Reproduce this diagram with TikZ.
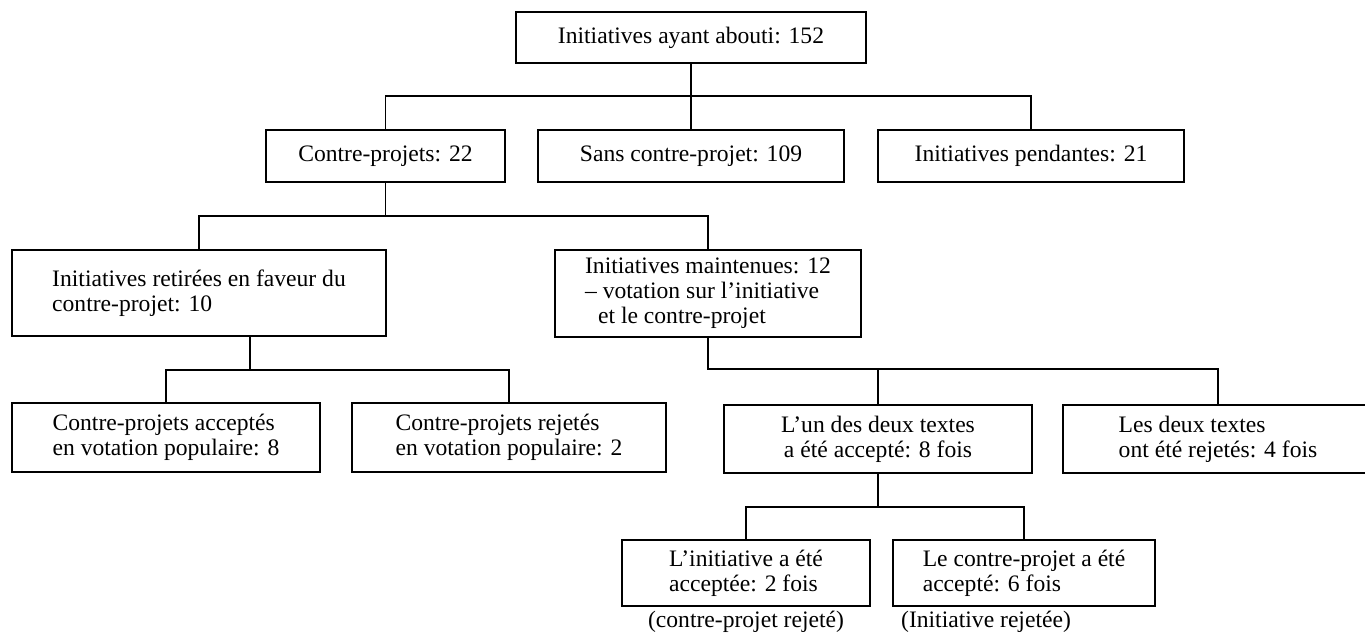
\documentclass[tikz,border=0pt]{standalone}
\usepackage{fontspec}
\setmainfont{Liberation Serif}
\tikzset{
  bx/.style={draw, line width=0.6pt, rectangle, inner sep=2pt, align=left,
    font=\fontsize{11.8pt}{12.6pt}\selectfont},
  bxc/.style={bx, align=center},
  captext/.style={inner sep=0pt, font=\fontsize{11.8pt}{12.6pt}\selectfont},
  ln/.style={line width=0.6pt}
}
\begin{document}
\begin{tikzpicture}[x=0.5pt,y=-0.5pt]
\useasboundingbox (0,0) rectangle (1365,635);
\clip (0,0) rectangle (1365,635);
% row 1
\node[bxc, minimum width=175pt, minimum height=25.5pt] (top) at (691,37.5) {Initiatives ayant abouti: 152};
% row 2
\node[bxc, minimum width=119.5pt, minimum height=26pt] (cp) at (385.5,156) {Contre-projets: 22};
\node[bxc, minimum width=153pt, minimum height=26pt] (sans) at (691,156) {Sans contre-projet: 109};
\node[bxc, minimum width=153pt, minimum height=26pt] (pend) at (1031,156) {Initiatives pendantes: 21};
% row 3
\node[bx, minimum width=187pt, minimum height=43pt] (ret) at (199,293) {Initiatives retirées en faveur du\\contre-projet: 10};
\node[bx, minimum width=153pt, minimum height=43.5pt] (maint) at (708,293.5) {Initiatives maintenues: 12\\– votation sur l’initiative\\\hspace{0.55em}et le contre-projet};
% row 4
\node[bx, minimum width=154pt, minimum height=34.5pt] (acc) at (166,437.5) {Contre-projets acceptés\\en votation populaire: 8};
\node[bx, minimum width=157pt, minimum height=34.5pt] (rej) at (509,437.5) {Contre-projets rejetés\\en votation populaire: 2};
\node[bxc, minimum width=154pt, minimum height=34pt] (lun) at (878,439) {L’un des deux textes\\a été accepté: 8 fois};
\node[bx, minimum width=155pt, minimum height=34pt] (les) at (1218,439) {Les deux textes\\ont été rejetés: 4 fois};
% row 5
\node[bx, minimum width=124pt, minimum height=33pt] (ini) at (746,573) {L’initiative a été\\acceptée: 2 fois};
\node[bx, minimum width=131pt, minimum height=33pt] (ctr) at (1024,573) {Le contre-projet a été\\accepté: 6 fois};
\node[captext] (cap1) at (746,622) {(contre-projet rejeté)};
\node[captext] (cap2) at (986,622) {(Initiative rejetée)};
% junctions
\coordinate (j1) at (691,96);
\coordinate (j2) at (385.5,216);
\coordinate (j3) at (250,370);
\coordinate (j4) at (708,369);
\coordinate (j5) at (878,507);
% connectors
\draw[ln] (top.south) -- (j1);
\draw[ln] (cp.north) |- (j1) -| (pend.north);
\draw[ln] (j1) -- (sans.north);
\draw[ln] (cp.south) -- (j2);
\draw[ln] (ret.north) |- (j2) -| (maint.north);
\draw[ln] (j3 |- ret.south) -- (j3);
\draw[ln] (acc.north) |- (j3) -| (rej.north);
\draw[ln] (maint.south) -- (j4) -| (les.north);
\draw[ln] (lun.north) -- (lun.north |- j4);
\draw[ln] (lun.south) -- (j5);
\draw[ln] (ini.north) |- (j5) -| (ctr.north);
\end{tikzpicture}
\end{document}
